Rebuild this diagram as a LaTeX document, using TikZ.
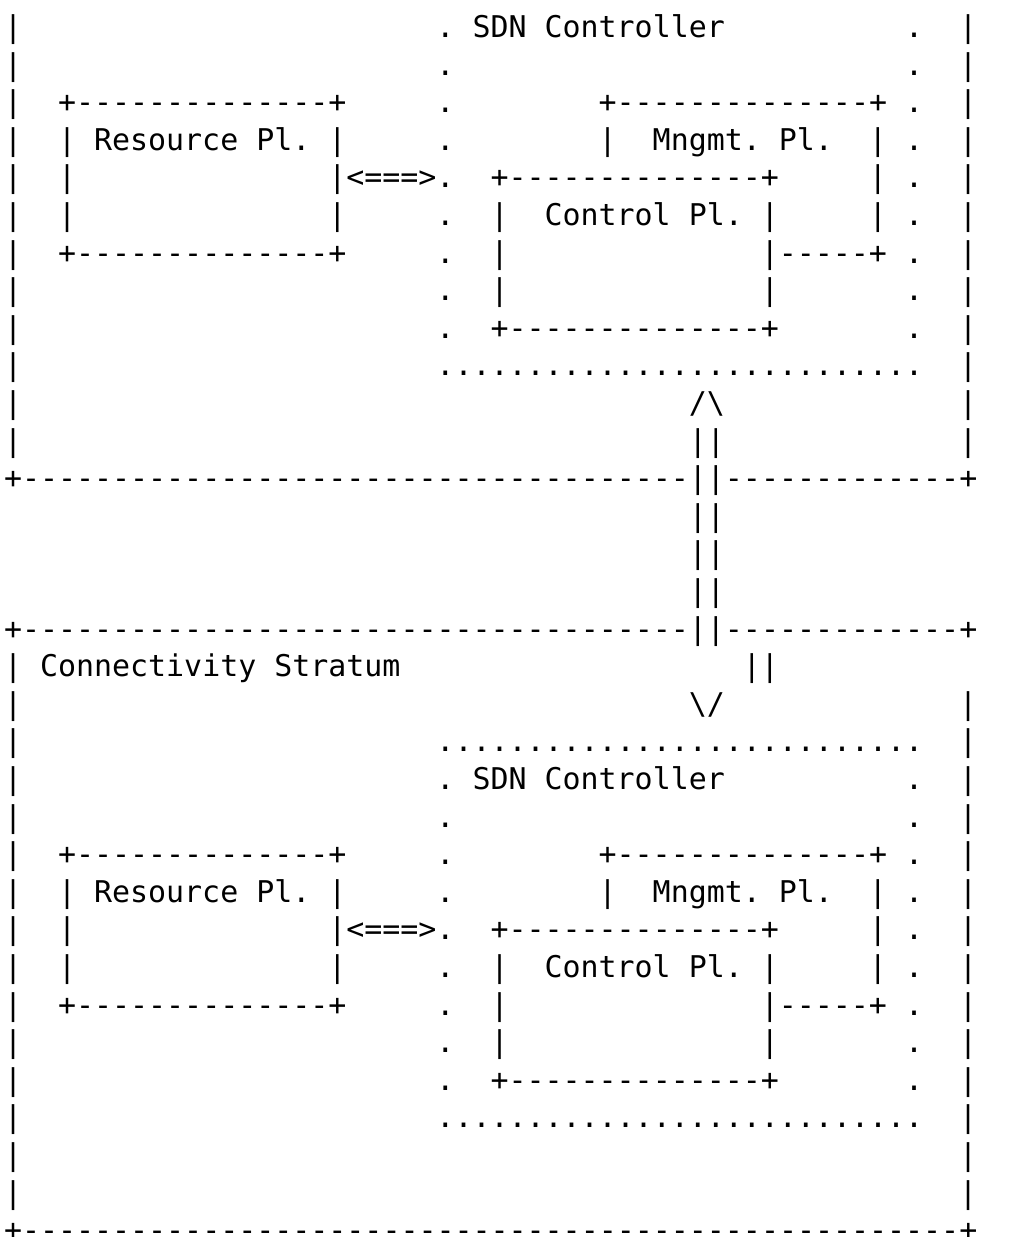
\documentclass[tikz,border=0pt]{standalone}
\usepackage{fontspec}
\setmonofont{DejaVu Sans Mono}

\ExplSyntaxOn
\newcommand\rep[2]{\prg_replicate:nn{#1}{#2}}
\ExplSyntaxOff
\newcommand\hd[1]{\rep{#1}{-}}
\newcommand\bsl{\textbackslash}

% one piece of text, placed on the character grid: name, column, row, text
\newcommand\seg[4]{\node[asc] (#1) at ({4+18.02*(#2)},{37.5+37.6*((#3)-1)}) {#4};}

% SDN controller stratum contents: prefix for names, row offset
\newcommand\ctlblock[2]{%
  \seg{#1-title}{26}{#2+1}{SDN Controller}
  \foreach \k in {1,...,9} {%
    \seg{#1-dl\k}{24}{#2+\k}{.}
    \seg{#1-dr\k}{50}{#2+\k}{.}
  }
  % resource plane box
  \seg{#1-res-top}{3}{#2+3}{+\hd{14}+}
  \seg{#1-res-l4}{3}{#2+4}{|}
  \seg{#1-res-txt}{5}{#2+4}{Resource Pl.}
  \seg{#1-res-r4}{18}{#2+4}{|}
  \seg{#1-res-l5}{3}{#2+5}{|}
  \seg{#1-link}{18}{#2+5}{|<===>}
  \seg{#1-res-l6}{3}{#2+6}{|}
  \seg{#1-res-r6}{18}{#2+6}{|}
  \seg{#1-res-bot}{3}{#2+7}{+\hd{14}+}
  % management plane box
  \seg{#1-mgt-top}{33}{#2+3}{+\hd{14}+}
  \seg{#1-mgt-l4}{33}{#2+4}{|}
  \seg{#1-mgt-txt}{36}{#2+4}{Mngmt. Pl.}
  \seg{#1-mgt-r4}{48}{#2+4}{|}
  \seg{#1-mgt-r5}{48}{#2+5}{|}
  \seg{#1-mgt-r6}{48}{#2+6}{|}
  % control plane box
  \seg{#1-ctl-top}{27}{#2+5}{+\hd{14}+}
  \seg{#1-ctl-l6}{27}{#2+6}{|}
  \seg{#1-ctl-txt}{30}{#2+6}{Control Pl.}
  \seg{#1-ctl-r6}{42}{#2+6}{|}
  \seg{#1-ctl-l7}{27}{#2+7}{|}
  \seg{#1-ctl-r7}{42}{#2+7}{|\hd{5}+}
  \seg{#1-ctl-l8}{27}{#2+8}{|}
  \seg{#1-ctl-r8}{42}{#2+8}{|}
  \seg{#1-ctl-bot}{27}{#2+9}{+\hd{14}+}
  % dotted bottom edge of the controller
  \seg{#1-dots-bot}{24}{#2+10}{\rep{27}{.}}
}

\begin{document}
\begin{tikzpicture}[x=0.5pt,y=-0.5pt,
  asc/.style={font=\ttfamily\fontsize{14.97pt}{18pt}\selectfont,
    inner sep=0pt, outer sep=0pt, anchor=base west, text=black}]
\fill[white] (0,0) rectangle (1018,1237);
\useasboundingbox (0,0) rectangle (1018,1237);

% upper stratum
\foreach \r in {1,...,12} {\seg{ul\r}{0}{\r}{|} \seg{ur\r}{53}{\r}{|}}
\ctlblock{up}{0}
\seg{up-arrow}{38}{11}{/\bsl}
\seg{up-shaft}{38}{12}{||}
\seg{up-border}{0}{13}{+\hd{37}||\hd{13}+}

% link between the strata
\foreach \r in {14,15,16} {\seg{shaft\r}{38}{\r}{||}}

% connectivity stratum
\seg{lo-border}{0}{17}{+\hd{37}||\hd{13}+}
\foreach \r in {18,...,32} {\seg{ll\r}{0}{\r}{|}}
\foreach \r in {19,...,32} {\seg{lr\r}{53}{\r}{|}}
\seg{lo-name}{2}{18}{Connectivity Stratum}
\seg{lo-shaft}{41}{18}{||}
\seg{lo-arrow}{38}{19}{\bsl/}
\seg{lo-dots-top}{24}{20}{\rep{27}{.}}
\ctlblock{lo}{20}
\seg{lo-bottom}{0}{33}{+\hd{52}+}
\end{tikzpicture}
\end{document}
